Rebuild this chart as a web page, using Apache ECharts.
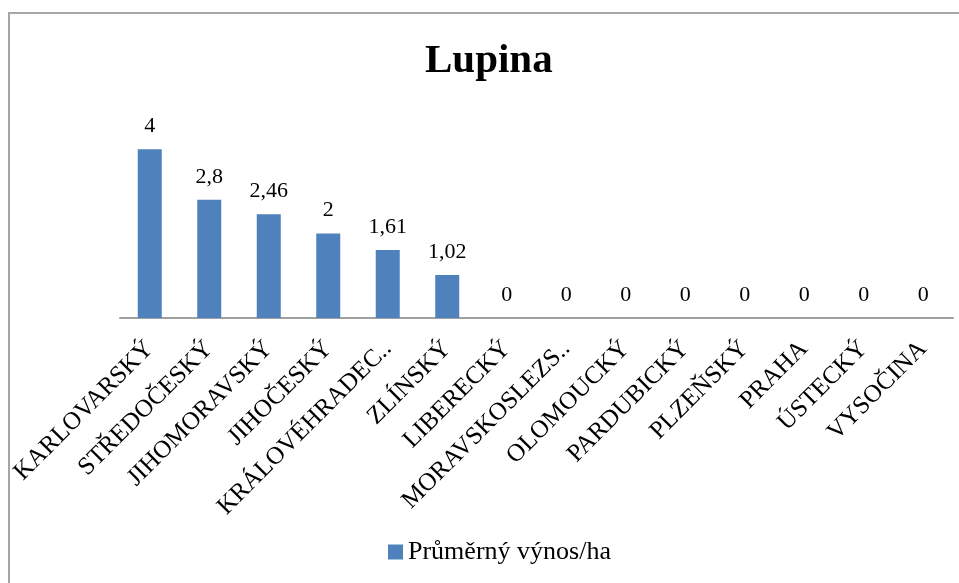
<!DOCTYPE html>
<html>
<head>
<meta charset="utf-8">
<script src="https://cdn.jsdelivr.net/npm/echarts@6/dist/echarts.min.js"></script>
<style>
  html, body { margin: 0; padding: 0; background: #fff; }
  #chart { width: 959px; height: 583px; }
</style>
</head>
<body>
<div id="chart"></div>
<script>
// Average lupine yield per hectare by region
const titleText = 'Lupina';
const seriesName = 'Průměrný výnos/ha';
const regions = [
  'KARLOVARSKÝ', 'STŘEDOČESKÝ', 'JIHOMORAVSKÝ', 'JIHOČESKÝ', 'KRÁLOVÉHRADECKÝ',
  'ZLÍNSKÝ', 'LIBERECKÝ', 'MORAVSKOSLEZSKÝ', 'OLOMOUCKÝ', 'PARDUBICKÝ',
  'PLZEŇSKÝ', 'PRAHA', 'ÚSTECKÝ', 'VYSOČINA'
];
const yields = [4, 2.8, 2.46, 2, 1.61, 1.02, 0, 0, 0, 0, 0, 0, 0, 0];

const serif = '"Liberation Serif", "DejaVu Serif", serif';
const chart = echarts.init(document.getElementById('chart'));

chart.setOption({
  backgroundColor: '#ffffff',
  animation: false,
  title: {
    text: titleText,
    left: 420,
    top: 36,
    textStyle: { fontFamily: serif, fontSize: 41, fontWeight: 'bold', color: '#000' }
  },
  graphic: [{
    type: 'rect',
    shape: { x: 9, y: 13, width: 1000, height: 620 },
    style: { fill: 'none', stroke: '#a6a6a6', lineWidth: 2 },
    silent: true
  }],
  legend: {
    bottom: 13,
    left: 383,
    itemWidth: 15,
    itemHeight: 15,
    itemGap: 4,
    icon: 'rect',
    textStyle: { fontFamily: serif, fontSize: 26, color: '#000' },
    data: [seriesName]
  },
  grid: { left: 120, right: 6, top: 107, bottom: 265, containLabel: false },
  xAxis: {
    type: 'category',
    data: regions,
    axisLine: { lineStyle: { color: '#a0a0a0', width: 2 } },
    axisTick: { show: false },
    axisLabel: {
      rotate: 45,
      interval: 0,
      margin: 27,
      fontFamily: serif,
      fontSize: 25,
      color: '#000',
      formatter: (v) => v.length > 14 ? v.slice(0, 13) + '..' : v
    }
  },
  yAxis: {
    type: 'value',
    min: 0,
    max: 5,
    show: false,
    splitLine: { show: false }
  },
  series: [{
    name: seriesName,
    type: 'bar',
    data: yields,
    barWidth: 24,
    itemStyle: { color: '#4f81bd' },
    label: {
      show: true,
      position: 'top',
      distance: 12,
      fontFamily: serif,
      fontSize: 22,
      color: '#000',
      formatter: (p) => String(p.value).replace('.', ',')
    }
  }]
});
</script>
</body>
</html>
